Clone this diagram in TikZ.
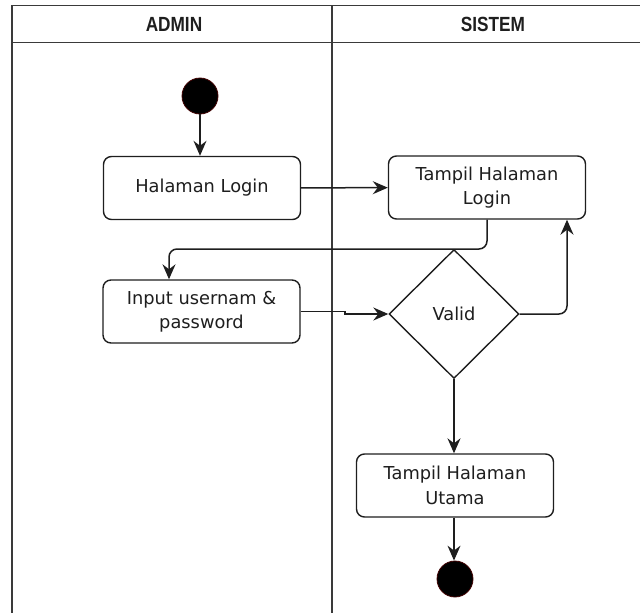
\documentclass[tikz,border=0pt]{standalone}
\usepackage{fontspec}
\setmainfont{DejaVu Sans}
\newfontfamily\headfont{Liberation Sans}
\usetikzlibrary{arrows.meta,shapes.geometric}
\definecolor{lane}{HTML}{3A3A3A}
\definecolor{ink}{HTML}{1E1E1E}
\begin{document}
\begin{tikzpicture}[x=1pt,y=-1pt,
  every node/.style={text=ink},
  lanehead/.style={font=\headfont\bfseries\fontsize{20.5}{24}\selectfont, xscale=0.84},
  action/.style={draw=ink, line width=1.4pt, rounded corners=8pt, fill=white,
    minimum width=197pt, minimum height=63pt, align=center,
    font=\fontsize{17.8}{24.5}\selectfont, inner sep=0pt},
  decision/.style={draw=ink, line width=1.4pt, diamond, fill=white,
    minimum width=130pt, minimum height=129pt, inner sep=0pt,
    font=\fontsize{17.8}{22}\selectfont},
  terminal/.style={circle, fill=black, draw=red!25!black, line width=0.8pt,
    minimum size=36pt, inner sep=0pt},
  flow/.style={draw=ink, line width=1.5pt, rounded corners=8pt,
    -{Stealth[length=15pt,width=13pt,inset=5pt]}}]
\useasboundingbox (0,0) rectangle (640,613);
\begin{scope}
\clip (0,0) rectangle (640,613);
% swimlane frame
\draw[lane, line width=1.6pt] (12,613) -- (12,5.5) -- (660,5.5);
\draw[lane, line width=1.6pt] (12,42.5) -- (660,42.5);
\draw[lane, line width=1.6pt] (332,5.5) -- (332,613);
\end{scope}
\node[lanehead] (hadmin) at (174,24.5) {ADMIN};
\node[lanehead] (hsistem) at (493,24.5) {SISTEM};

% activities
\node[terminal] (start) at (200,96) {};
\node[action] (login) at (202,188) {Halaman Login};
\node[action] (input) at (201.5,311.5) {Input usernam \&\\password};
\node[action] (tlogin) at (487,187.5) {Tampil Halaman\\Login};
\node[decision] (valid) at (454,314) {Valid};
\node[action] (tutama) at (455,485.5) {Tampil Halaman\\Utama};
\node[terminal] (stop) at (455,579) {};

% routing points
\coordinate (jleft) at (169,249);
\coordinate (jog) at (345,0);
\coordinate (jright) at (567,0);

% control flow
\draw[flow] (start.south) -- (login.north -| start.south);
\draw[flow] (login) -- (tlogin);
\draw[flow] (tlogin.south) |- (jleft) -- (input.north -| jleft);
\draw[flow, rounded corners=0pt] (input.east) -- (input.east -| jog) -- (valid.west -| jog) -- (valid.west);
\draw[flow] (valid.east) -| (tlogin.south -| jright);
\draw[flow] (valid.south) -- (tutama.north -| valid.south);
\draw[flow] (tutama.south -| valid.south) -- (stop.north -| valid.south);
\end{tikzpicture}
\end{document}
